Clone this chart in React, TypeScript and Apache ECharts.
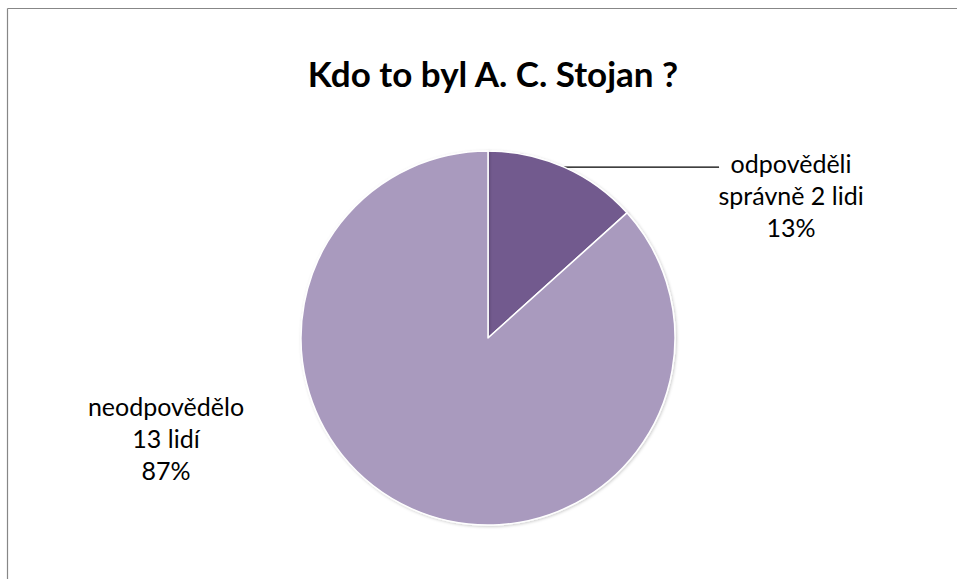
import React, { useEffect, useRef } from "react";
import * as echarts from "echarts";

const titleText = "Kdo to byl A. C. Stojan ?";
const categories = ["odpověděli\nsprávně 2 lidi", "neodpovědělo\n13 lidí"];
const values = [2, 13];
const colors = ["#725A8E", "#A99ABE"];

export default function App() {
  const ref = useRef<HTMLDivElement>(null);
  useEffect(() => {
    const chart = echarts.init(ref.current!, null, { renderer: "svg" });
    const font = "Lato, 'Open Sans', sans-serif";
    chart.setOption({
      animation: false,
      backgroundColor: "#ffffff",
      title: {
        text: titleText,
        left: 488,
        textAlign: "center",
        top: 50,
        textStyle: { fontFamily: font, fontWeight: "bold", fontSize: 35, color: "#000" },
      },
      graphic: [
        { type: "line", shape: { x1: 7.5, y1: 8.5, x2: 957, y2: 8.5 }, style: { stroke: "#878787", lineWidth: 1.2 } },
        { type: "line", shape: { x1: 7.5, y1: 8.5, x2: 7.5, y2: 579 }, style: { stroke: "#878787", lineWidth: 1.2 } },
      ],
      series: [
        {
          type: "pie",
          center: [488, 338],
          radius: 187,
          startAngle: 90,
          clockwise: true,
          data: categories.map((c, i) => ({ name: c, value: values[i], itemStyle: { color: colors[i] } })),
          itemStyle: {
            borderColor: "#ffffff",
            borderWidth: 1.5,
            shadowBlur: 3,
            shadowColor: "rgba(0,0,0,0.2)",
            shadowOffsetX: 1,
            shadowOffsetY: 1,
          },
          label: {
            show: true,
            position: "outside",
            formatter: (p: any) => `${p.name}\n${Math.round(p.percent)}%`,
            fontFamily: font,
            fontSize: 25,
            lineHeight: 32,
            color: "#000",
            align: "center",
          },
          labelLine: {
            show: true,
            length: 0,
            length2: 155,
            lineStyle: { color: "#000", width: 1.3 },
          },
          labelLayout: (params: any) => {
            const p = params.labelLinePoints;
            if (params.dataIndex === 0 && p) {
              const x0 = p[0][0];
              const y0 = p[0][1];
              const x1 = x0 + 155;
              return {
                x: x1 + 72,
                y: y0 + 28,
                align: "center",
                verticalAlign: "middle",
                labelLinePoints: [[x0, y0], [x1, y0], [x1, y0]],
              };
            }
            return {
              x: 166,
              y: 438,
              align: "center",
              verticalAlign: "middle",
              labelLinePoints: [[0, 0], [0, 0], [0, 0]],
            };
          },
          emphasis: { disabled: true },
        },
      ],
    });
    return () => chart.dispose();
  }, []);
  return (
    <div
      ref={ref}
      style={{ position: "fixed", left: 0, top: 0, width: 957, height: 579 }}
    />
  );
}
